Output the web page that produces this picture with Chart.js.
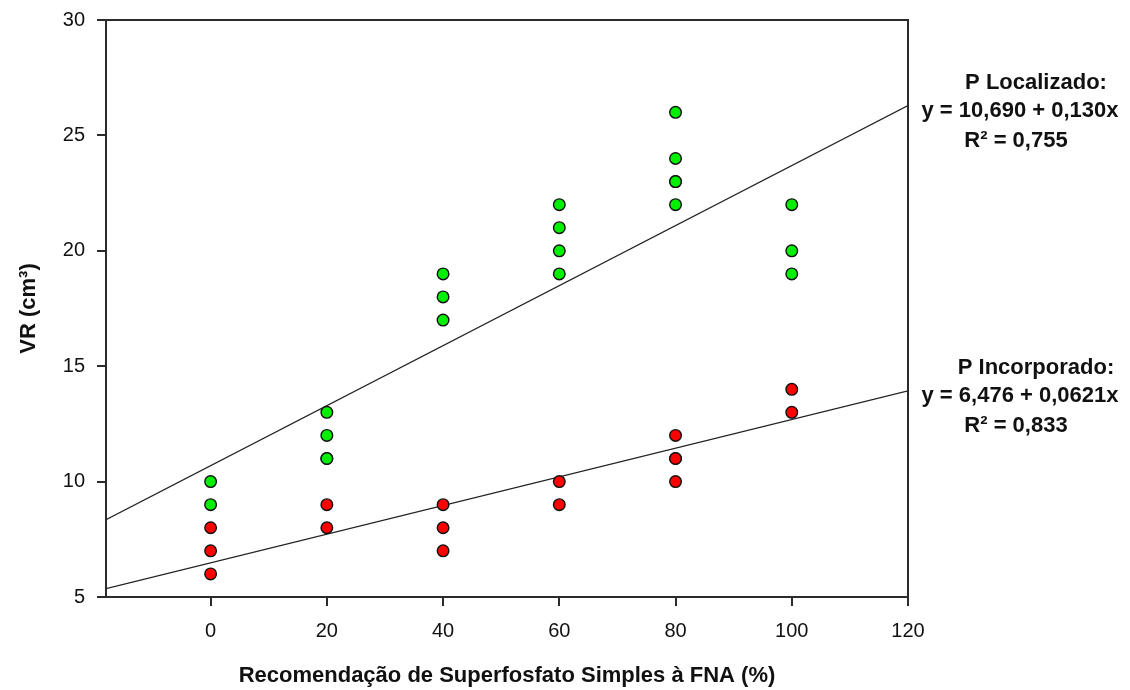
<!DOCTYPE html>
<html>
<head>
<meta charset="utf-8">
<script src="https://cdn.jsdelivr.net/npm/chart.js@4/dist/chart.umd.min.js"></script>
<style>
  body { margin: 0; background: #fff; }
  canvas { display: block; }
</style>
</head>
<body>
<canvas id="vr-chart" width="1130" height="690"></canvas>
<script>
// doses of superfosfato simples (% of FNA) and root volume readings
const doses = [0, 20, 40, 60, 80, 100];
const vrLocalizado = [[9, 10], [11, 11, 12, 13], [17, 18, 19], [19, 20, 21, 22], [22, 23, 23, 24, 26], [19, 20, 22]];
const vrIncorporado = [[6, 7, 8], [8, 9], [7, 8, 9], [9, 10], [10, 11, 11, 12], [13, 14]];

// regression: intercept, slope, R2
const fitLocalizado = [10.690, 0.130, 0.755];
const fitIncorporado = [6.476, 0.0621, 0.833];
const fitDecimals = { Localizado: [3, 3, 3], Incorporado: [3, 4, 3] };

const xTicks = [0, 20, 40, 60, 80, 100, 120];
const xRange = [-18, 120];
const yRange = [5, 30];

const FONT = '"Liberation Sans", Arial, Helvetica, sans-serif';
const AXIS = '#2b2b2b';

const toPoints = sets => doses.flatMap((d, i) => sets[i].map(v => ({ x: d, y: v })));
const fitLine = f => xRange.map(x => ({ x, y: f[0] + f[1] * x }));
const fmt = (v, d) => v.toFixed(d).replace('.', ',');

// equation text to the right of each regression line
const fitLabels = {
  id: 'fitLabels',
  afterDraw(chart) {
    const { ctx, chartArea, scales } = chart;
    const rows = [
      ['P Localizado:', fitLocalizado, fitDecimals.Localizado],
      ['P Incorporado:', fitIncorporado, fitDecimals.Incorporado],
    ];
    ctx.save();
    ctx.fillStyle = '#111';
    ctx.font = 'bold 22px ' + FONT;
    ctx.textAlign = 'center';
    ctx.textBaseline = 'middle';
    rows.forEach(([name, f, d]) => {
      const yEnd = scales.y.getPixelForValue(f[0] + f[1] * xRange[1]);
      const r = chartArea.right;
      ctx.fillText(name, r + 128, yEnd - 23);
      ctx.fillText(`y = ${fmt(f[0], d[0])} + ${fmt(f[1], d[1])}x`, r + 112, yEnd + 5);
      ctx.fillText(`R² = ${fmt(f[2], d[2])}`, r + 108, yEnd + 35);
    });
    ctx.restore();
  }
};

// top and right sides of the frame
const frame = {
  id: 'frame',
  afterDatasetsDraw(chart) {
    const { ctx, chartArea: a } = chart;
    ctx.save();
    ctx.strokeStyle = AXIS;
    ctx.lineWidth = 2;
    ctx.beginPath();
    ctx.moveTo(a.left - 9, a.top);
    ctx.lineTo(a.right, a.top);
    ctx.lineTo(a.right, a.bottom);
    ctx.stroke();
    ctx.restore();
  }
};

Chart.defaults.font.family = FONT;
Chart.defaults.color = '#111';

new Chart(document.getElementById('vr-chart'), {
  type: 'scatter',
  data: {
    datasets: [
      {
        label: 'P Localizado',
        data: toPoints(vrLocalizado),
        backgroundColor: '#00f000',
        borderColor: '#111',
        borderWidth: 1.4,
        pointRadius: 5.8,
        order: 1,
      },
      {
        label: 'P Incorporado',
        data: toPoints(vrIncorporado),
        backgroundColor: '#ff0000',
        borderColor: '#111',
        borderWidth: 1.4,
        pointRadius: 5.8,
        order: 1,
      },
      {
        type: 'line',
        label: 'Ajuste Localizado',
        data: fitLine(fitLocalizado),
        borderColor: '#222',
        borderWidth: 1.3,
        pointRadius: 0,
        order: 2,
      },
      {
        type: 'line',
        label: 'Ajuste Incorporado',
        data: fitLine(fitIncorporado),
        borderColor: '#222',
        borderWidth: 1.3,
        pointRadius: 0,
        order: 2,
      },
    ],
  },
  options: {
    responsive: false,
    animation: false,
    layout: { padding: { left: 0, right: 222, top: 20, bottom: 0 } },
    plugins: { legend: { display: false }, tooltip: { enabled: false } },
    scales: {
      x: {
        type: 'linear',
        min: xRange[0],
        max: xRange[1],
        afterBuildTicks: s => { s.ticks = xTicks.map(v => ({ value: v })); },
        afterFit: s => { s.height = 93; },
        grid: { drawOnChartArea: false, drawTicks: true, tickLength: 9, color: AXIS, lineWidth: 2 },
        border: { display: true, color: AXIS, width: 2 },
        ticks: { font: { size: 20 }, padding: 13, maxRotation: 0 },
        title: {
          display: true,
          text: 'Recomendação de Superfosfato Simples à FNA (%)',
          font: { size: 22, weight: 'bold' },
          padding: { bottom: 1 },
        },
      },
      y: {
        min: yRange[0],
        max: yRange[1],
        afterFit: s => { s.width = 106; s.paddingTop = 0; s.paddingBottom = 0; },
        grid: { drawOnChartArea: false, drawTicks: true, tickLength: 9, color: AXIS, lineWidth: 2 },
        border: { display: true, color: AXIS, width: 2 },
        ticks: { stepSize: 5, font: { size: 20 }, padding: 12 },
        title: {
          display: true,
          text: 'VR (cm³)',
          font: { size: 22, weight: 'bold' },
          padding: { top: 16 },
        },
      },
    },
  },
  plugins: [frame, fitLabels],
});
</script>
</body>
</html>
